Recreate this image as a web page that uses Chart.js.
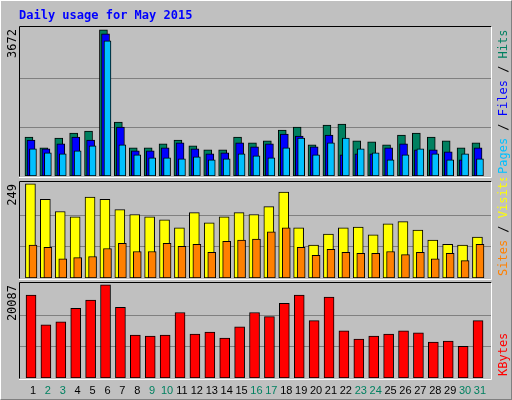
<!DOCTYPE html>
<html>
<head>
<meta charset="utf-8">
<script src="https://cdn.jsdelivr.net/npm/chart.js@4"></script>
<style>
  body { margin: 0; background: #fff; }
  #wrap { position: relative; width: 510px; height: 398px; background: #c0c0c0;
          border-top: 1px solid #fff; border-left: 1px solid #fff;
          border-right: 1px solid #808080; border-bottom: 1px solid #808080; }
  canvas { position: absolute; left: -1px; }
</style>
</head>
<body>
<div id="wrap">
  <canvas id="c1" width="512" height="178" style="top:-1px"></canvas>
  <canvas id="c2" width="512" height="102" style="top:177px"></canvas>
  <canvas id="c3" width="512" height="121" style="top:279px"></canvas>
</div>
<script>
const days = ['1','2','3','4','5','6','7','8','9','10','11','12','13','14','15','16',
    '17','18','19','20','21','22','23','24','25','26','27','28','29','30','31'];
const weekend = ['2','3','9','10','16','17','23','24','30','31'];

const hits = [980, 706, 955, 1080, 1130, 3672, 1354, 706, 706, 806, 906, 756, 656, 656, 980, 831,
    881, 1155, 1230, 781, 1279, 1304, 881, 856, 781, 1030, 1080, 980, 881, 706, 831];
const files = [906, 681, 806, 980, 906, 3572, 1230, 631, 631, 706, 831, 681, 557, 582, 831, 731,
    806, 1055, 1005, 731, 1030, 532, 557, 557, 706, 806, 656, 656, 606, 407, 706];
const pages = [681, 582, 557, 631, 756, 3398, 781, 532, 457, 457, 432, 482, 407, 432, 557, 507,
    457, 706, 955, 532, 831, 955, 681, 582, 407, 532, 681, 557, 407, 557, 432];
const visits = [249, 208, 176, 162, 214, 208, 181, 168, 162, 154, 133, 173, 146, 162, 173, 168,
    189, 227, 133, 87, 116, 133, 135, 114, 143, 149, 127, 100, 89, 87, 108];
const sites = [87, 81, 51, 54, 57, 78, 92, 70, 70, 92, 84, 89, 68, 97, 100, 103,
    122, 133, 81, 60, 76, 68, 65, 65, 70, 62, 68, 51, 65, 46, 89];
const kbytes = [17885, 11480, 12140, 15010, 16780, 20087, 15230, 9270, 9050, 9270, 14130, 9490, 9930, 8610, 11040, 14130,
    13250, 16120, 17885, 12360, 17440, 10160, 8390, 9050, 9490, 10160, 9715, 7730, 7950, 6845, 12360];

const MONO = '"DejaVu Sans Mono", monospace';

function pts(values, offset) {
    return values.map((v, i) => ({ x: i + 1 + offset, y: v }));
}

function bars(label, values, offset, color, width) {
    return {
        label: label,
        data: pts(values, offset),
        backgroundColor: color,
        borderColor: '#000',
        borderWidth: 1,
        borderSkipped: false,
        barThickness: width,
        grouped: false
    };
}

// panel frame, left max label and right legend
function panelPlugin(maxLabel, legend, extra) {
    return {
        id: 'panel',
        beforeDatasetsDraw(chart) {
            const a = chart.chartArea, ctx = chart.ctx;
            ctx.save();
            ctx.lineWidth = 1;
            ctx.strokeStyle = '#000';
            ctx.beginPath();
            ctx.moveTo(a.left - 0.5, a.bottom + 0.5);
            ctx.lineTo(a.left - 0.5, a.top - 0.5);
            ctx.lineTo(a.right + 0.5, a.top - 0.5);
            ctx.stroke();
            ctx.strokeStyle = '#fff';
            ctx.beginPath();
            ctx.moveTo(a.right + 0.5, a.top - 0.5);
            ctx.lineTo(a.right + 0.5, a.bottom + 1.5);
            ctx.lineTo(a.left - 1, a.bottom + 1.5);
            ctx.stroke();
            ctx.restore();
        },
        afterDraw(chart) {
            const a = chart.chartArea, ctx = chart.ctx;
            ctx.save();
            ctx.font = '12px ' + MONO;
            ctx.fillStyle = '#000';
            ctx.translate(19, a.top + 2);
            ctx.rotate(-Math.PI / 2);
            ctx.textAlign = 'right';
            ctx.textBaseline = 'bottom';
            ctx.fillText(maxLabel, 0, 0);
            ctx.restore();

            ctx.save();
            ctx.font = '12px ' + MONO;
            ctx.translate(504, a.bottom - 2);
            ctx.rotate(-Math.PI / 2);
            ctx.textBaseline = 'middle';
            let x = 0;
            legend.forEach(([t, c]) => {
                ctx.fillStyle = c;
                ctx.fillText(t, x, 0);
                x += ctx.measureText(t).width;
            });
            ctx.restore();
            if (extra) extra(chart);
        }
    };
}

function makeChart(id, datasets, max, pad, plugin) {
    new Chart(document.getElementById(id), {
        type: 'bar',
        data: { datasets: datasets },
        options: {
            responsive: false,
            animation: false,
            layout: { padding: pad },
            plugins: { legend: { display: false }, tooltip: { enabled: false } },
            scales: {
                x: { type: 'linear', min: 0.13, max: 31.74, offset: false, display: false },
                y: {
                    min: 0, max: max,
                    afterBuildTicks(s) {
                        s.ticks = [1, 2].map(k => ({ value: k * max / 3 / 1.02 }));
                    },
                    grid: { color: '#808080', drawTicks: false },
                    border: { display: false },
                    ticks: { display: false }
                }
            }
        },
        plugins: [plugin]
    });
}

// first dataset is painted on top, so front bars come first
makeChart('c1', [
    bars('Pages', pages, 0, '#00c0ff', 7),
    bars('Files', files, -0.13, '#0000ff', 8),
    bars('Hits', hits, -0.27, '#008060', 8)
], 3672 * 1.02, { left: 20, right: 21, top: 27, bottom: 2 },
    panelPlugin('3672', [['Pages', '#00c0ff'], [' / ', '#000'], ['Files', '#0000ff'], [' / ', '#000'], ['Hits', '#008060']],
        chart => {
            const ctx = chart.ctx;
            ctx.save();
            ctx.font = 'bold 12px ' + MONO;
            ctx.fillStyle = '#0000ff';
            ctx.textBaseline = 'middle';
            ctx.fillText('Daily usage for May 2015', 19, 16);
            ctx.restore();
        }));

makeChart('c2', [
    bars('Sites', sites, 0, '#ff8000', 8),
    bars('Visits', visits, -0.17, '#ffff00', 10)
], 249 * 1.02, { left: 20, right: 21, top: 4, bottom: 2 },
    panelPlugin('249', [['Sites', '#ff8000'], [' / ', '#000'], ['Visits', '#ffff00']]));

makeChart('c3', [
    bars('KBytes', kbytes, -0.13, '#ff0000', 10)
], 20087 * 1.02, { left: 20, right: 21, top: 3, bottom: 23 },
    panelPlugin('20087', [['KBytes', '#ff0000']], chart => {
        const ctx = chart.ctx, xs = chart.scales.x;
        ctx.save();
        ctx.font = '11px "Liberation Sans", sans-serif';
        ctx.textAlign = 'center';
        ctx.textBaseline = 'middle';
        days.forEach((d, i) => {
            ctx.fillStyle = weekend.includes(d) ? '#008060' : '#000';
            ctx.fillText(d, xs.getPixelForValue(i + 1), 111);
        });
        ctx.restore();
    }));
</script>
</body>
</html>
